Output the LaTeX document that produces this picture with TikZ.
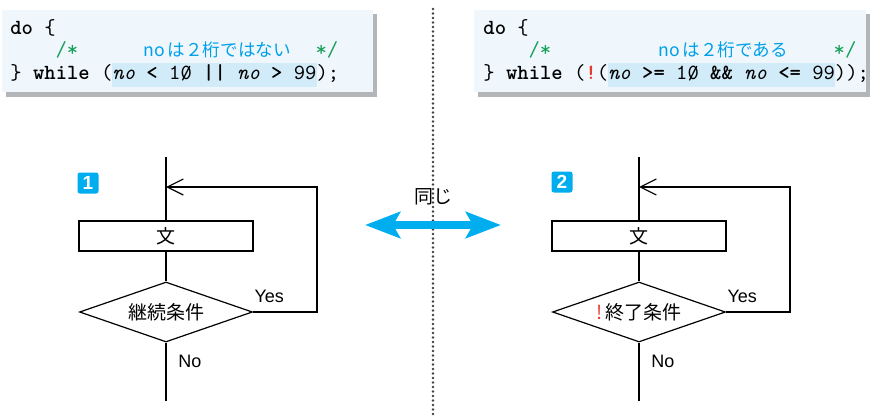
\documentclass[tikz,border=0pt]{standalone}
\usepackage{fontspec}
\setmainfont{Liberation Sans}
\newfontfamily\jpfont{Noto Sans CJK JP}
\usepackage{xcolor}
\usetikzlibrary{arrows.meta, shapes.geometric, positioning}

\definecolor{codebg}{HTML}{EFF7FD}
\definecolor{codeshadow}{HTML}{B4B5B8}
\definecolor{hlblue}{HTML}{D2EBF8}
\definecolor{cmtgreen}{HTML}{1AA05A}
\definecolor{cmtcyan}{HTML}{00A0E9}
\definecolor{exclred}{HTML}{E8382F}
\definecolor{mainblue}{HTML}{00AEEF}

\newcommand\codefont{\ttfamily\fontsize{10.8pt}{13pt}\selectfont}
\newcommand\slzero{\ooalign{0\cr\hidewidth\raisebox{0.05ex}{\scalebox{0.95}[0.88]{/}}\hidewidth\cr}}
\newcommand\hlcode[1]{{\fboxsep=0pt\colorbox{hlblue}{\vrule height 8.5pt depth 3.5pt width 0pt #1}}}

\begin{document}
\begin{tikzpicture}[x=0.5pt, y=-0.5pt,
    code/.style={anchor=base west, inner sep=0pt, font=\codefont},
    cmt/.style={anchor=base west, inner sep=0pt, text=cmtcyan,
                font=\jpfont\fontsize{8.8pt}{10pt}\selectfont},
    flowbox/.style={draw, line width=0.6pt, minimum width=87pt, minimum height=15pt,
                    inner sep=0pt, font=\jpfont\fontsize{9.5pt}{10pt}\selectfont},
    cond/.style={diamond, draw, line width=0.6pt, aspect=2.9, minimum width=86.5pt,
                 minimum height=30pt, inner sep=0pt,
                 font=\jpfont\fontsize{9.5pt}{10pt}\selectfont},
    flow/.style={line width=0.6pt},
    back/.style={line width=0.6pt, -{Straight Barb[length=8pt, width=8pt]}},
    lbl/.style={inner sep=0pt, font=\fontsize{9pt}{10pt}\selectfont},
    badge/.style={fill=mainblue, text=white, rounded corners=1.2pt, minimum size=10.5pt,
                  inner sep=0pt, font=\bfseries\fontsize{9.5pt}{10pt}\selectfont},
    same/.style={mainblue, line width=4pt,
                 {Stealth[length=17.5pt, width=13pt, inset=3.5pt]}-{Stealth[length=17.5pt, width=13pt, inset=3.5pt]}},
    sepline/.style={black!75, line width=1.3pt, line cap=round, dash pattern=on 0pt off 2.25pt}]
\useasboundingbox (0,0) rectangle (870,417);

% code boxes
\fill[codeshadow] (6,14) rectangle (377,97);
\fill[codebg] (2,10) rectangle (373,92);
\fill[codeshadow] (478,14) rectangle (870,97);
\fill[codebg] (474,10) rectangle (866,92);

\node[code] (l1) at (10,35) {\textbf{do} \{};
\node[code, text=cmtgreen] (lc1) at (55.2,57) {/*};
\node[cmt] (lc2) at (143,57) {no\,は２桁ではない};
\node[code, text=cmtgreen] (lc3) at (315.1,57) {*/};
\node[code] (l3) at (10,80) {\} \textbf{while} (\hlcode{\textit{no} \textbf{<} 1\slzero{} \textbf{||} \textit{no} \textbf{>} 99});};

\node[code] (r1) at (483,35) {\textbf{do} \{};
\node[code, text=cmtgreen] (rc1) at (528.2,57) {/*};
\node[cmt] (rc2) at (658,57) {no\,は２桁である};
\node[code, text=cmtgreen] (rc3) at (833.3,57) {*/};
\node[code] (r3) at (483,80) {\} \textbf{while} (\textcolor{exclred}{\textbf{!}}(\hlcode{\textit{no} \textbf{>=} 1\slzero{} \textbf{\&\&} \textit{no} \textbf{<=} 99}));};

% separator
\draw[sepline] (433,9) -- (433,414);

% flowchart 1
\node[badge] (num1) at (88,183) {1};
\node[flowbox] (stmt1) at (166,236) {文};
\node[cond] (cond1) at (166,312) {継続条件};
\coordinate (top1) at (166,157);
\coordinate (bot1) at (166,401);
\coordinate (back1) at (166,187);
\coordinate (turn1) at (317,187);
\draw[flow] (top1) -- (stmt1);
\draw[flow] (stmt1) -- (cond1);
\draw[flow] (cond1) -- (bot1);
\draw[back] (cond1.east) -| (turn1) -- (back1);
\node[lbl, above right=4.5pt and 0.5pt of cond1.east] (yes1) {Yes};
\node[lbl, below right=6pt and 6pt of cond1.south] (no1) {No};

% flowchart 2
\node[badge] (num2) at (562,182) {2};
\node[flowbox] (stmt2) at (639,236) {文};
\node[cond] (cond2) at (639,312) {\textcolor{exclred}{!}\,終了条件};
\coordinate (top2) at (639,157);
\coordinate (bot2) at (639,401);
\coordinate (back2) at (639,187);
\coordinate (turn2) at (790,187);
\draw[flow] (top2) -- (stmt2);
\draw[flow] (stmt2) -- (cond2);
\draw[flow] (cond2) -- (bot2);
\draw[back] (cond2.east) -| (turn2) -- (back2);
\node[lbl, above right=4.5pt and 0.5pt of cond2.east] (yes2) {Yes};
\node[lbl, below right=6pt and 6pt of cond2.south] (no2) {No};

% same
\coordinate (larr) at (365,225);
\coordinate (rarr) at (501,225);
\draw[same] (larr) -- (rarr);
\node[font=\jpfont\fontsize{9.5pt}{10pt}\selectfont] (samelbl) at (433,197) {同じ};

\end{tikzpicture}
\end{document}
